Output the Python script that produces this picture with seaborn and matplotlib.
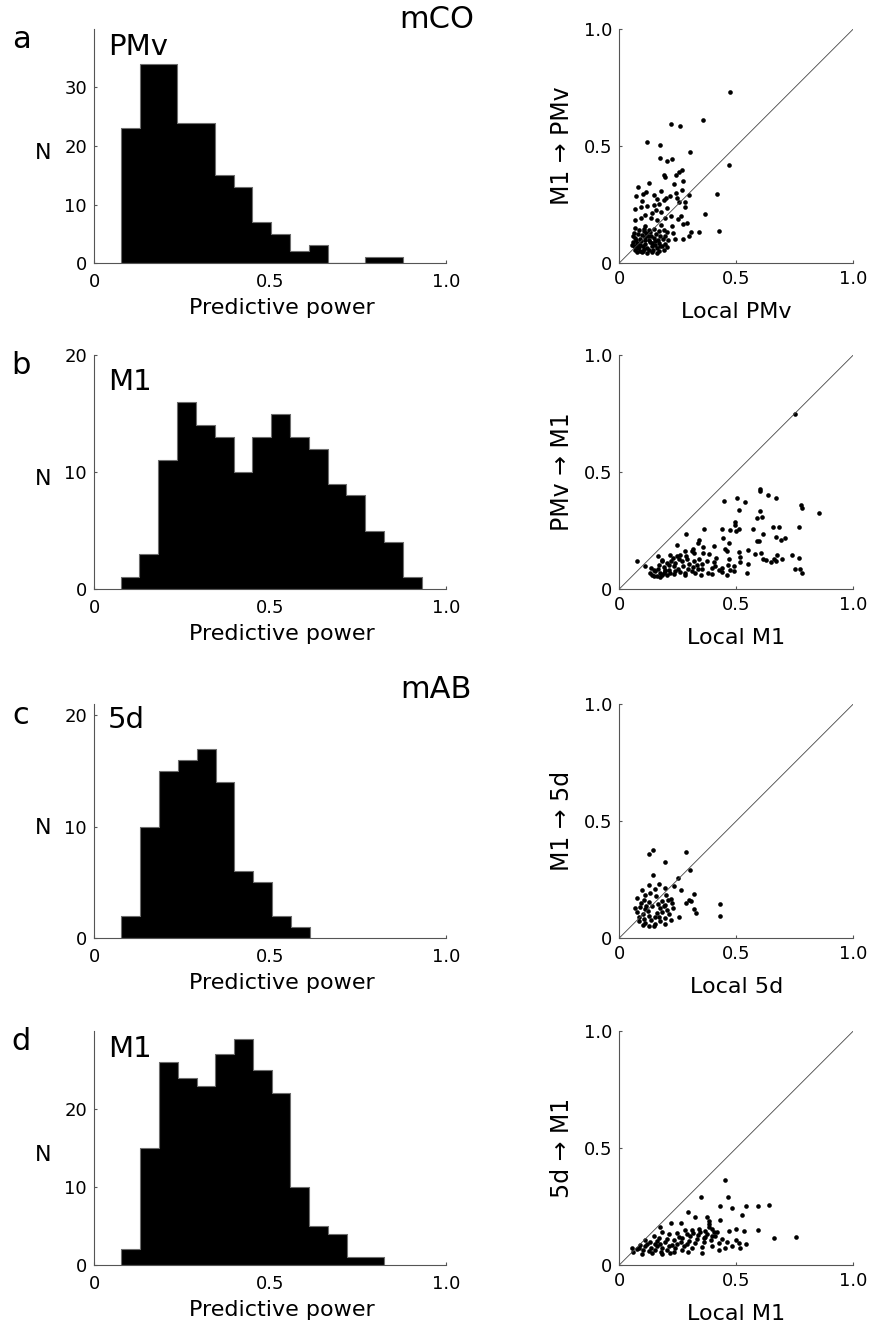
import numpy as np
import pandas as pd
import matplotlib
matplotlib.use("Agg")
import matplotlib.pyplot as plt
import seaborn as sns

# histogram data: range of the bins and the count in each bin
hist_a_range = (0.0758, 0.878)
hist_a_counts = [23, 34, 34, 24, 24, 15, 13, 7, 5, 2, 3, 0, 0, 1, 1]
hist_b_range = (0.0758, 0.931)
hist_b_counts = [1, 3, 11, 16, 14, 13, 10, 13, 15, 13, 12, 9, 8, 5, 4, 1]
hist_c_range = (0.0767, 0.614)
hist_c_counts = [2, 10, 15, 16, 17, 14, 6, 5, 2, 1]
hist_d_range = (0.0777, 0.825)
hist_d_counts = [2, 15, 26, 24, 23, 27, 29, 25, 22, 10, 5, 4, 1, 1]

# scatter a: local PMv vs M1 -> PMv
local_pmv = [0.474, 0.356, 0.221, 0.259, 0.120, 0.172, 0.302, 0.172, 0.225, 0.202,
             0.470, 0.268, 0.255, 0.243, 0.192, 0.197, 0.274, 0.127, 0.235, 0.080,
             0.416, 0.115, 0.179, 0.241, 0.266, 0.100, 0.298, 0.071, 0.148, 0.218,
             0.199, 0.161, 0.189, 0.097, 0.248, 0.282, 0.256, 0.120, 0.094, 0.148,
             0.171, 0.279, 0.205, 0.066, 0.158, 0.178, 0.368, 0.111, 0.140, 0.219,
             0.262, 0.197, 0.249, 0.066, 0.094, 0.134, 0.161, 0.291, 0.274, 0.225,
             0.111, 0.179, 0.305, 0.342, 0.425, 0.228, 0.239, 0.271, 0.299,
             0.068, 0.083, 0.104, 0.125, 0.147, 0.168, 0.189, 0.204,
             0.061, 0.080, 0.097, 0.115, 0.137, 0.157, 0.175, 0.197,
             0.068, 0.090, 0.108, 0.128, 0.148, 0.165, 0.185, 0.208,
             0.057, 0.075, 0.094, 0.111, 0.132, 0.151, 0.171, 0.194,
             0.063, 0.083, 0.100, 0.118, 0.140, 0.161, 0.182, 0.204,
             0.068, 0.088, 0.105, 0.125, 0.145, 0.168, 0.189,
             0.075, 0.097, 0.118, 0.140, 0.161,
             0.060, 0.071, 0.104, 0.123, 0.140, 0.090, 0.111, 0.154, 0.132, 0.175,
             0.080, 0.100, 0.054, 0.073]
m1_to_pmv = [0.729, 0.613, 0.595, 0.585, 0.516, 0.504, 0.473, 0.450, 0.444, 0.437,
             0.417, 0.396, 0.389, 0.375, 0.375, 0.369, 0.349, 0.342, 0.339, 0.325,
             0.296, 0.305, 0.309, 0.299, 0.311, 0.296, 0.292, 0.285, 0.292, 0.288,
             0.278, 0.274, 0.268, 0.264, 0.278, 0.259, 0.261, 0.245, 0.241, 0.249,
             0.254, 0.241, 0.235, 0.231, 0.228, 0.217, 0.211, 0.207, 0.214, 0.199,
             0.199, 0.191, 0.188, 0.185, 0.192, 0.192, 0.185, 0.171, 0.168, 0.160,
             0.157, 0.164, 0.134, 0.131, 0.137, 0.128, 0.103, 0.103, 0.114,
             0.150, 0.142, 0.145, 0.140, 0.147, 0.135, 0.142, 0.131,
             0.128, 0.125, 0.121, 0.128, 0.117, 0.125, 0.114, 0.117,
             0.107, 0.103, 0.111, 0.100, 0.107, 0.097, 0.103, 0.100,
             0.088, 0.085, 0.093, 0.083, 0.088, 0.078, 0.085, 0.083,
             0.071, 0.068, 0.074, 0.064, 0.071, 0.064, 0.071, 0.067,
             0.057, 0.053, 0.060, 0.054, 0.057, 0.051, 0.057,
             0.046, 0.048, 0.043, 0.047, 0.043,
             0.114, 0.097, 0.135, 0.114, 0.085, 0.078, 0.097, 0.093, 0.131, 0.074,
             0.064, 0.050, 0.078, 0.074]

# scatter b: local M1 vs PMv -> M1
local_m1_co = [0.749, 0.077, 0.111, 0.137, 0.165, 0.147, 0.172, 0.182, 0.189, 0.197, 0.214,
               0.446, 0.501, 0.537, 0.600, 0.603, 0.634, 0.671, 0.511, 0.600, 0.778, 0.779, 0.852,
               0.587, 0.608, 0.494, 0.493, 0.766, 0.440, 0.474, 0.500, 0.510, 0.573, 0.655, 0.682,
               0.360, 0.286, 0.615, 0.668, 0.707, 0.689, 0.442, 0.341, 0.336, 0.467, 0.590, 0.595,
               0.246, 0.313, 0.359, 0.403, 0.453, 0.460, 0.551, 0.510, 0.581, 0.605, 0.674, 0.738,
               0.217, 0.258, 0.285, 0.311, 0.318, 0.385, 0.413, 0.467, 0.514, 0.616, 0.628, 0.661,
               0.694, 0.768, 0.650, 0.671, 0.514, 0.548, 0.465, 0.439, 0.489, 0.353, 0.396, 0.410,
               0.749, 0.772, 0.782, 0.544, 0.350, 0.396, 0.437, 0.472, 0.282, 0.282,
               0.182, 0.204, 0.228, 0.239, 0.254, 0.268, 0.289, 0.299, 0.318, 0.332, 0.353, 0.375,
               0.168, 0.189, 0.211, 0.232, 0.251, 0.271, 0.293, 0.313, 0.336,
               0.154, 0.175, 0.197, 0.218, 0.239, 0.261, 0.311,
               0.140, 0.161, 0.182, 0.204, 0.232,
               0.147, 0.132, 0.165, 0.222, 0.246, 0.339, 0.403, 0.425, 0.325, 0.379, 0.460, 0.489,
               0.282, 0.356]
pmv_to_m1 = [0.748, 0.121, 0.097, 0.090, 0.140, 0.054, 0.051, 0.118, 0.068, 0.083, 0.104,
             0.375, 0.390, 0.370, 0.427, 0.420, 0.402, 0.390, 0.338, 0.332, 0.358, 0.346, 0.323,
             0.302, 0.306, 0.285, 0.272, 0.265, 0.256, 0.254, 0.246, 0.255, 0.256, 0.264, 0.264,
             0.258, 0.234, 0.234, 0.221, 0.217, 0.208, 0.218, 0.211, 0.198, 0.197, 0.204, 0.207,
             0.187, 0.172, 0.178, 0.184, 0.172, 0.161, 0.165, 0.160, 0.151, 0.152, 0.144, 0.147,
             0.147, 0.147, 0.140, 0.161, 0.154, 0.151, 0.132, 0.130, 0.138, 0.130, 0.125, 0.130,
             0.130, 0.132, 0.115, 0.118, 0.115, 0.108, 0.104, 0.090, 0.098, 0.085, 0.090, 0.097,
             0.087, 0.085, 0.068, 0.068, 0.061, 0.064, 0.071, 0.083, 0.068, 0.058,
             0.125, 0.111, 0.132, 0.111, 0.130, 0.118, 0.130, 0.107, 0.118, 0.104, 0.107, 0.118,
             0.104, 0.093, 0.083, 0.097, 0.087, 0.097, 0.087, 0.093, 0.084,
             0.075, 0.068, 0.075, 0.068, 0.078, 0.071, 0.075,
             0.058, 0.054, 0.061, 0.058, 0.064,
             0.083, 0.068, 0.087, 0.118, 0.140, 0.130, 0.115, 0.083, 0.068, 0.068, 0.061, 0.075,
             0.161, 0.154]

# scatter c: local 5d vs M1 -> 5d
local_5d = [0.125, 0.145, 0.285, 0.194, 0.302, 0.142, 0.251, 0.168, 0.125, 0.197,
            0.235, 0.151, 0.097, 0.262, 0.321, 0.130, 0.111, 0.074, 0.157, 0.199,
            0.219, 0.296, 0.285, 0.306, 0.104, 0.125, 0.182, 0.197, 0.225, 0.429,
            0.066, 0.088, 0.111, 0.140, 0.175, 0.204, 0.228, 0.318, 0.075, 0.100,
            0.123, 0.182, 0.211, 0.328, 0.432, 0.083, 0.104, 0.128, 0.168, 0.194,
            0.222, 0.254, 0.085, 0.111, 0.137, 0.154, 0.175, 0.125, 0.147, 0.100,
            0.161, 0.189, 0.208, 0.165, 0.151, 0.114, 0.094, 0.197]
m1_to_5d = [0.360, 0.375, 0.369, 0.323, 0.289, 0.268, 0.256, 0.232, 0.226, 0.214,
            0.221, 0.209, 0.207, 0.204, 0.189, 0.192, 0.184, 0.171, 0.178, 0.185,
            0.167, 0.164, 0.150, 0.157, 0.161, 0.152, 0.157, 0.142, 0.150, 0.144,
            0.127, 0.132, 0.124, 0.135, 0.128, 0.121, 0.127, 0.124, 0.110, 0.104,
            0.114, 0.110, 0.104, 0.107, 0.095, 0.090, 0.081, 0.093, 0.090, 0.085,
            0.078, 0.090, 0.071, 0.064, 0.076, 0.058, 0.071, 0.053, 0.050, 0.056,
            0.107, 0.138, 0.164, 0.145, 0.090, 0.138, 0.150, 0.061]

# scatter d: local M1 vs 5d -> M1
local_m1_ab = [0.453, 0.350, 0.464, 0.432, 0.481, 0.541, 0.593, 0.638, 0.293, 0.325,
               0.373, 0.382, 0.524, 0.432, 0.175, 0.222, 0.262, 0.385, 0.467, 0.499,
               0.533, 0.593, 0.660, 0.755, 0.282, 0.311, 0.342, 0.367, 0.396, 0.417,
               0.182, 0.211, 0.246, 0.147, 0.168, 0.268, 0.303, 0.336, 0.367, 0.396,
               0.439, 0.499, 0.111, 0.132, 0.161, 0.197, 0.232, 0.262, 0.296, 0.325,
               0.360, 0.393, 0.425, 0.460, 0.510, 0.541, 0.090, 0.111, 0.137, 0.161,
               0.182, 0.211, 0.239, 0.275, 0.311, 0.353, 0.396, 0.453, 0.481, 0.517,
               0.075, 0.100, 0.125, 0.154, 0.179, 0.204, 0.232, 0.268, 0.293, 0.353,
               0.425, 0.060, 0.097, 0.140, 0.182, 0.218, 0.118, 0.151, 0.175, 0.204,
               0.254, 0.288, 0.316, 0.346, 0.375, 0.403, 0.332, 0.360, 0.382, 0.410,
               0.246, 0.288, 0.225, 0.054, 0.083]
d5_to_m1 = [0.365, 0.291, 0.291, 0.251, 0.244, 0.251, 0.254, 0.256, 0.225, 0.205,
            0.205, 0.188, 0.212, 0.194, 0.162, 0.179, 0.179, 0.174, 0.144, 0.152,
            0.144, 0.148, 0.117, 0.120, 0.148, 0.151, 0.155, 0.145, 0.155, 0.141,
            0.141, 0.131, 0.137, 0.123, 0.117, 0.117, 0.123, 0.127, 0.120, 0.123,
            0.113, 0.105, 0.105, 0.098, 0.103, 0.098, 0.105, 0.097, 0.103, 0.094,
            0.100, 0.105, 0.094, 0.098, 0.094, 0.091, 0.084, 0.080, 0.074, 0.080,
            0.074, 0.080, 0.074, 0.080, 0.074, 0.077, 0.080, 0.074, 0.080, 0.074,
            0.070, 0.063, 0.060, 0.063, 0.057, 0.063, 0.057, 0.063, 0.057, 0.051,
            0.066, 0.056, 0.048, 0.051, 0.048, 0.051, 0.091, 0.091, 0.088, 0.112,
            0.120, 0.134, 0.137, 0.141, 0.131, 0.141, 0.113, 0.117, 0.162, 0.123,
            0.091, 0.088, 0.084, 0.074, 0.074]

diag = [0, 1]

sns.set_style("ticks")
plt.rcParams.update({
    "font.family": ["DejaVu Sans"],
    "text.color": "black",
    "axes.labelcolor": "black",
    "axes.edgecolor": "#555555",
    "axes.linewidth": 0.8,
    "xtick.color": "#555555",
    "ytick.color": "#555555",
    "xtick.labelcolor": "black",
    "ytick.labelcolor": "black",
    "xtick.direction": "in",
    "ytick.direction": "in",
    "xtick.major.size": 2.5,
    "ytick.major.size": 2.5,
    "xtick.labelsize": 13,
    "ytick.labelsize": 13,
})

W, H = 871, 1327
fig = plt.figure(figsize=(W / 100, H / 100), dpi=100)

rows = [
    dict(letter="a", region="PMv", top=29, rng=hist_a_range, counts=hist_a_counts, ymax=40,
         yticks=[0, 10, 20, 30], reg_y=0.985, sx=local_pmv, sy=m1_to_pmv,
         slab="M1 \u2192 PMv", xlab="Local PMv"),
    dict(letter="b", region="M1", top=355, rng=hist_b_range, counts=hist_b_counts, ymax=20,
         yticks=[0, 10, 20], reg_y=0.945, sx=local_m1_co, sy=pmv_to_m1,
         slab="PMv \u2192 M1", xlab="Local M1"),
    dict(letter="c", region="5d", top=704, rng=hist_c_range, counts=hist_c_counts, ymax=21,
         yticks=[0, 10, 20], reg_y=0.99, sx=local_5d, sy=m1_to_5d,
         slab="M1 \u2192 5d", xlab="Local 5d"),
    dict(letter="d", region="M1", top=1031, rng=hist_d_range, counts=hist_d_counts, ymax=30,
         yticks=[0, 10, 20], reg_y=0.985, sx=local_m1_ab, sy=d5_to_m1,
         slab="5d \u2192 M1", xlab="Local M1"),
]

ah = 234 / H
for r in rows:
    bottom = 1 - (r["top"] + 234) / H

    # histogram (filled outline, no lines between bins)
    ax = fig.add_axes([94 / W, bottom, 352 / W, ah])
    edges = np.linspace(r["rng"][0], r["rng"][1], len(r["counts"]) + 1)
    hist_df = pd.DataFrame({"power": (edges[:-1] + edges[1:]) / 2, "n": r["counts"]})
    sns.histplot(data=hist_df, x="power", weights="n", bins=list(edges), ax=ax,
                 element="step", fill=True, color="black", edgecolor="#6e6e6e",
                 linewidth=0.8, alpha=1)
    ax.set_xlim(0, 1)
    ax.set_ylim(0, r["ymax"])
    ax.set_xticks([0, 0.5, 1.0])
    ax.set_xticklabels(["0", "0.5", "1.0"])
    ax.set_yticks(r["yticks"])
    ax.tick_params(axis="x", pad=7)
    ax.tick_params(axis="y", pad=5)
    sns.despine(ax=ax)
    ax.set_ylabel("N", rotation=0, fontsize=16, va="center", ha="center")
    ax.yaxis.set_label_coords(-0.145, 0.47)
    ax.set_xlabel("Predictive power", fontsize=16, va="top")
    ax.xaxis.set_label_coords(0.534, -0.15)
    ax.text(0.04, r["reg_y"], r["region"], transform=ax.transAxes, fontsize=21,
            va="top", ha="left")
    fig.text(21 / W, 1 - (r["top"] + 11) / H, r["letter"], fontsize=22,
             ha="center", va="center")

    # scatter
    sx = fig.add_axes([619.3 / W, bottom, 234 / W, ah])
    sx.plot(diag, diag, color="#444444", linewidth=0.6)
    sns.scatterplot(x=r["sx"], y=r["sy"], ax=sx, color="black", s=11, linewidth=0)
    sx.set_xlim(0, 1)
    sx.set_ylim(0, 1)
    sx.set_xticks([0, 0.5, 1.0])
    sx.set_xticklabels(["0", "0.5", "1.0"])
    sx.set_yticks([0, 0.5, 1.0])
    sx.set_yticklabels(["0", "0.5", "1.0"])
    sx.tick_params(axis="x", pad=5)
    sx.tick_params(axis="y", pad=5)
    sns.despine(ax=sx)
    sx.set_ylabel(r["slab"], fontsize=17, va="center")
    sx.yaxis.set_label_coords(-0.245, 0.5)
    sx.set_xlabel(r["xlab"], fontsize=16, va="top")
    sx.xaxis.set_label_coords(0.5, -0.165)

fig.text(437 / W, 1 - 20 / H, "mCO", fontsize=22, ha="center", va="center")
fig.text(436 / W, 1 - 690 / H, "mAB", fontsize=22, ha="center", va="center")

fig.savefig("out.png", dpi=100)
